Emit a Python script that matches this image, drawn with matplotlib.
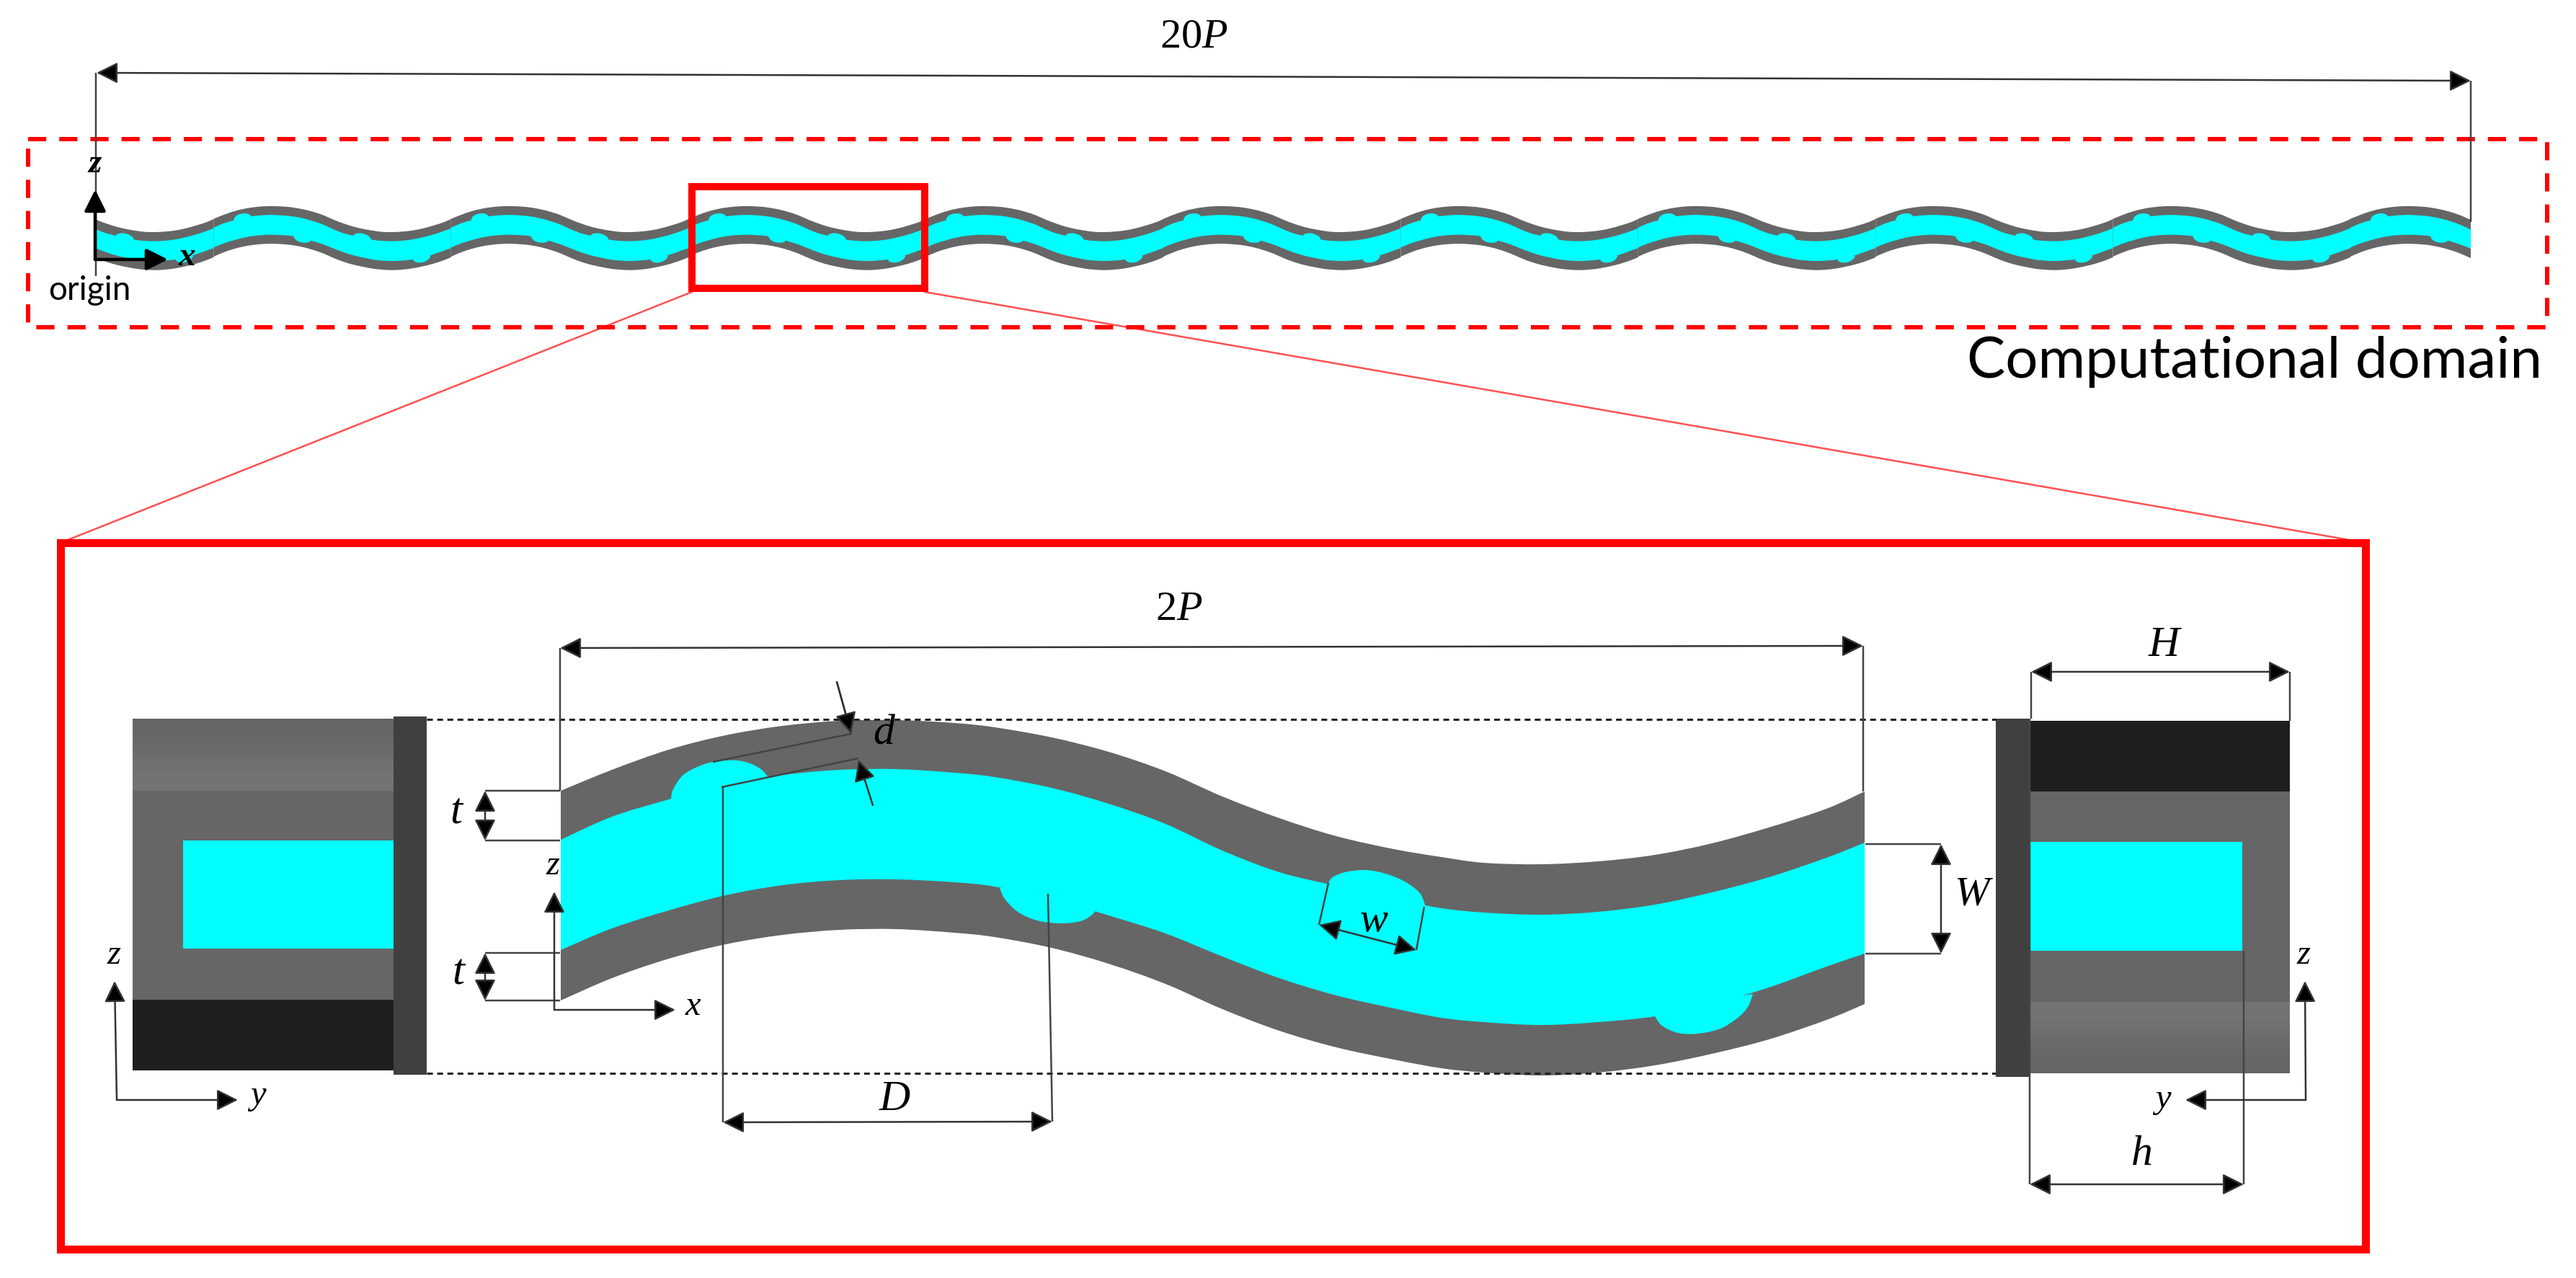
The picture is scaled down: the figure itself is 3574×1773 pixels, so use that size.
import numpy as np
import matplotlib
matplotlib.use('Agg')
import matplotlib.pyplot as plt
from matplotlib.path import Path
from matplotlib.patches import PathPatch, Rectangle, FancyArrowPatch

plt.rcParams['mathtext.fontset'] = 'custom'
plt.rcParams['mathtext.rm'] = 'Liberation Serif'
plt.rcParams['mathtext.it'] = 'Liberation Serif:italic'

# channel edges (picture pixels)
edge_x = [778, 849, 928, 1007, 1086, 1165, 1244, 1324, 1380, 1459, 1538, 1617, 1696,
          1775, 1854, 1934, 2000, 2059, 2138, 2217, 2296, 2375, 2454, 2534, 2587]
top_outer = [1097, 1068, 1040, 1020, 1007, 1000, 999, 1003, 1009, 1023, 1043, 1070, 1105,
             1135, 1160, 1178, 1189, 1197, 1199, 1195, 1186, 1170, 1148, 1122, 1098]
top_inner = [1165, 1133, 1109, 1087, 1075, 1068, 1067, 1072, 1078, 1093, 1115, 1143, 1180,
             1210, 1229, 1247, 1260, 1266, 1269, 1265, 1255, 1238, 1217, 1190, 1169]
bot_inner = [1318, 1288, 1263, 1242, 1228, 1221, 1220, 1224, 1230, 1247, 1270, 1295, 1327,
             1357, 1381, 1399, 1412, 1418, 1422, 1418, 1410, 1393, 1370, 1341, 1323]
bot_outer = [1388, 1357, 1330, 1310, 1297, 1290, 1289, 1294, 1300, 1315, 1337, 1365, 1400,
             1430, 1453, 1470, 1482, 1488, 1492, 1488, 1478, 1462, 1442, 1415, 1393]

# cyan dimples, last point sits inside the channel
bump1_x = [931, 934, 948, 972, 995, 1023, 1043, 1057, 1065, 1000]
bump1_y = [1108, 1095, 1075, 1062, 1056, 1055, 1060, 1068, 1077, 1120]
bump2_x = [1387, 1394, 1412, 1439, 1471, 1499, 1514, 1522, 1450]
bump2_y = [1232, 1247, 1265, 1277, 1281, 1278, 1270, 1261, 1225]
bump3_x = [1843, 1849, 1866, 1894, 1922, 1949, 1969, 1976, 1977, 1900]
bump3_y = [1225, 1217, 1210, 1207, 1212, 1223, 1238, 1252, 1258, 1270]
bump4_x = [2296, 2306, 2328, 2356, 2387, 2411, 2425, 2432, 2360]
bump4_y = [1410, 1423, 1433, 1434, 1427, 1412, 1397, 1379, 1390]
bumps = [(bump1_x, bump1_y), (bump2_x, bump2_y), (bump3_x, bump3_y), (bump4_x, bump4_y)]

# (x0, y0, x1, y1) thin leader lines
leaders = [
    (133, 101, 133, 383), (3428, 112, 3428, 308),
    (777, 899, 777, 1097), (2585, 896, 2585, 1098),
    (673, 1097, 777, 1097), (673, 1166, 777, 1166),
    (673, 1322, 777, 1322), (673, 1388, 777, 1388),
    (1003, 1092, 1003, 1557), (1454, 1240, 1460, 1556),
    (1161, 946, 1181, 1018), (1181, 1018, 989, 1057),
    (1001, 1092, 1191, 1052),
    (1843, 1225, 1830, 1283), (1976, 1258, 1965, 1318),
    (2588, 1171, 2693, 1171), (2588, 1323, 2693, 1323),
    (2818, 932, 2818, 997), (3177, 932, 3177, 1000),
    (2816, 1489, 2816, 1643), (3113, 1319, 3113, 1643),
    (2816, 997, 2816, 1489),
]
# arrows: (x0, y0, x1, y1, style)
arrows = [
    (134, 101, 3428, 112, '<|-|>'), (777, 899, 2585, 896, '<|-|>'),
    (673, 1097, 673, 1166, '<|-|>'), (673, 1322, 673, 1388, '<|-|>'),
    (1003, 1557, 1460, 1556, '<|-|>'), (1830, 1283, 1965, 1318, '<|-|>'),
    (2693, 1171, 2693, 1323, '<|-|>'), (2818, 932, 3177, 932, '<|-|>'),
    (2816, 1643, 3113, 1643, '<|-|>'),
    (1161, 946, 1181, 1018, '-|>'), (1211, 1117, 1191, 1054, '-|>'),
    (769, 1401, 769, 1237, '-|>'), (769, 1401, 937, 1401, '-|>'),
    (162, 1526, 159, 1361, '-|>'), (162, 1526, 330, 1526, '-|>'),
    (3199, 1526, 3198, 1361, '-|>'), (3199, 1526, 3032, 1526, '-|>'),
]
# (x, y, string, size)
serif_labels = [
    (1656, 52, '20$\\mathit{P}$', 42), (1636, 846, '2$\\mathit{P}$', 42),
    (634, 1127, '$\\mathit{t}$', 44), (637, 1350, '$\\mathit{t}$', 44),
    (1241, 1526, '$\\mathit{D}$', 43), (1227, 1017, '$\\mathit{d}$', 43),
    (1906, 1278, '$\\mathit{w}$', 42), (2739, 1242, '$\\mathit{W}$', 42),
    (3004, 896, '$\\mathit{H}$', 43), (2971, 1602, '$\\mathit{h}$', 43),
    (767, 1201, '$\\mathit{z}$', 35), (962, 1396, '$\\mathit{x}$', 35),
    (158, 1325, '$\\mathit{z}$', 35), (357, 1522, '$\\mathit{y}$', 35),
    (3196, 1325, '$\\mathit{z}$', 35), (3000, 1527, '$\\mathit{y}$', 35),
]

PX = 0.72  # one picture pixel in points at dpi 100
GREY = '#666666'
CYAN = '#00ffff'
RED = '#ff0000'


def spline(xs, ys):
    # smooth curve through the read points, drawn as bezier pieces by Path
    pts = np.column_stack([xs, ys]).astype(float)
    n = len(pts)
    verts = [pts[0]]
    codes = [Path.MOVETO]
    for i in range(n - 1):
        p0 = pts[max(i - 1, 0)]
        p1 = pts[i]
        p2 = pts[i + 1]
        p3 = pts[min(i + 2, n - 1)]
        verts += [p1 + (p2 - p0) / 6, p2 - (p3 - p1) / 6, p2]
        codes += [Path.CURVE4] * 3
    return verts, codes


def band(xs, upper, lower):
    v1, c1 = spline(xs, upper)
    v2, c2 = spline(xs[::-1], lower[::-1])
    c2[0] = Path.LINETO
    return Path(v1 + v2 + [v1[0]], c1 + c2 + [Path.CLOSEPOLY])


def blob(xs, ys):
    v, c = spline(xs[:-1], ys[:-1])
    return Path(v + [(xs[-1], ys[-1]), v[0]], c + [Path.LINETO, Path.CLOSEPOLY])


def draw_channel(ax, fx, fy, clip=None):
    ex = [fx(x) for x in edge_x]
    parts = [
        (band(ex, [fy(y) for y in top_outer], [fy(y) for y in bot_outer]), GREY),
        (band(ex, [fy(y) for y in top_inner], [fy(y) for y in bot_inner]), CYAN),
    ]
    for bx, by in bumps:
        parts.append((blob([fx(x) for x in bx], [fy(y) for y in by]), CYAN))
    for path, col in parts:
        p = PathPatch(path, facecolor=col, edgecolor='none', zorder=2)
        ax.add_patch(p)
        if clip is not None:
            p.set_clip_path(clip)


fig = plt.figure(figsize=(35.74, 17.73), dpi=100)
ax = fig.add_axes([0, 0, 1, 1])
ax.set_xlim(0, 3574)
ax.set_ylim(1773, 0)
ax.axis('off')

# red frames
ax.add_patch(Rectangle((39, 193), 3495, 261, fill=False, edgecolor=RED, lw=6 * PX,
                       linestyle=(0, (4.2, 3.0)), zorder=5))
ax.add_patch(Rectangle((960, 259), 323, 141, fill=False, edgecolor=RED, lw=10 * PX, zorder=6))
ax.add_patch(Rectangle((84, 753), 3198, 980, fill=False, edgecolor=RED, lw=11 * PX, zorder=6))
ax.plot([960, 84], [405, 753], color='#ff5050', lw=2.5 * PX, zorder=4)
ax.plot([1283, 3282], [405, 753], color='#ff5050', lw=2.5 * PX, zorder=4)

# small overview: the panel geometry repeated ten times
scale_x = 329.4 / (edge_x[-1] - edge_x[0])
scale_y = 0.18
clip = Rectangle((134, 200), 3294, 240, transform=ax.transData)
for k in range(-1, 11):
    x0 = 134 - 167 + k * 329.4
    draw_channel(ax, lambda v, a=x0: a + (v - edge_x[0]) * scale_x,
                 lambda v: 286 + (v - 999) * scale_y, clip=clip)

# enlarged panel
draw_channel(ax, lambda v: v, lambda v: v)

# end faces
ax.imshow(np.array([[0.40], [0.45]]), cmap='gray', vmin=0, vmax=1, extent=(184, 546, 1097, 997),
          aspect='auto', interpolation='bilinear', zorder=2)
ax.add_patch(Rectangle((184, 1097), 362, 290, color=GREY, lw=0, zorder=2))
ax.add_patch(Rectangle((184, 1387), 362, 98, color='#1f1f1f', lw=0, zorder=2))
ax.add_patch(Rectangle((254, 1166), 292, 150, color=CYAN, lw=0, zorder=3))
ax.add_patch(Rectangle((546, 994), 46, 497, color='#404040', lw=0, zorder=3))

ax.imshow(np.array([[0.45], [0.40]]), cmap='gray', vmin=0, vmax=1, extent=(2816, 3177, 1489, 1390),
          aspect='auto', interpolation='bilinear', zorder=2)
ax.add_patch(Rectangle((2816, 1000), 361, 98, color='#1f1f1f', lw=0, zorder=2))
ax.add_patch(Rectangle((2816, 1098), 361, 292, color=GREY, lw=0, zorder=2))
ax.add_patch(Rectangle((2816, 1168), 295, 151, color=CYAN, lw=0, zorder=3))
ax.add_patch(Rectangle((2769, 997), 47, 497, color='#404040', lw=0, zorder=3))
ax.set_xlim(0, 3574)
ax.set_ylim(1773, 0)

# dotted guides
for gy in [998, 1489]:
    ax.plot([592, 2769], [gy, gy], color='#222222', lw=3 * PX, linestyle=(0, (2.7, 2)), zorder=4)

# dimension lines
for x0, y0, x1, y1 in leaders:
    ax.plot([x0, x1], [y0, y1], color='#444444', lw=2.5 * PX, zorder=7, solid_capstyle='butt')
for x0, y0, x1, y1, style in arrows:
    ax.add_patch(FancyArrowPatch((x0, y0), (x1, y1), shrinkA=0, shrinkB=0, mutation_scale=1,
                                 arrowstyle=f'{style},head_length=18,head_width=9',
                                 color='#333333', fc='black', lw=2.5 * PX, zorder=8))

# overview axes
ax.add_patch(FancyArrowPatch((132, 360), (132, 263), shrinkA=0, shrinkB=0, mutation_scale=1,
                             arrowstyle='-|>,head_length=18,head_width=9', color='black', lw=4.5 * PX, zorder=8))
ax.add_patch(FancyArrowPatch((132, 360), (233, 360), shrinkA=0, shrinkB=0, mutation_scale=1,
                             arrowstyle='-|>,head_length=18,head_width=9', color='black', lw=4.5 * PX, zorder=8))
ax.text(132, 228, 'z', fontsize=34, family='Liberation Serif', style='italic', weight='bold',
        ha='center', va='center', zorder=9)
ax.text(259, 357, 'x', fontsize=34, family='Liberation Serif', style='italic', weight='bold',
        ha='center', va='center', zorder=9)
ax.text(124, 403, 'origin', fontsize=33, family='Lato', ha='center', va='center', zorder=9)
ax.text(3527, 524, 'Computational domain', fontsize=57.5, family='Lato', ha='right', va='baseline', zorder=9)

for x, y, s, size in serif_labels:
    ax.text(x, y, s, fontsize=size, family='Liberation Serif', ha='center', va='center', zorder=9)

fig.savefig('out.png', dpi=100, facecolor='white')
